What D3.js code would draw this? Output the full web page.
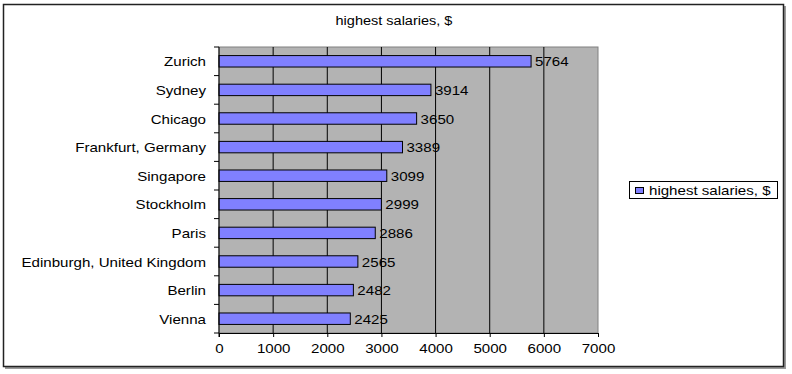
<!DOCTYPE html>
<html>
<head>
<meta charset="utf-8">
<script src="https://cdn.jsdelivr.net/npm/d3@7"></script>
<style>
  body { margin: 0; background: #fff; }
  text { font-family: "Liberation Sans", Arial, sans-serif; fill: #000; }
</style>
</head>
<body>
<svg id="chart"></svg>
<script>
var cities = ["Zurich", "Sydney", "Chicago", "Frankfurt, Germany", "Singapore",
  "Stockholm", "Paris", "Edinburgh, United Kingdom", "Berlin", "Vienna"];
var salaries = [5764, 3914, 3650, 3389, 3099, 2999, 2886, 2565, 2482, 2425];
var xTicks = [0, 1000, 2000, 3000, 4000, 5000, 6000, 7000];
var seriesName = "highest salaries, $";

var w = 792, h = 374;
// plot area ("top" is taken on window, so pTop/pBottom)
var pLeft = 219, pRight = 598, pTop = 47, pBottom = 333;
var fs = "13px";
var stretch = 1.16; // the original text is a bit wider than Arial

var svg = d3.select("#chart").attr("width", w).attr("height", h);

// outer frame with a little shadow
svg.append("rect").attr("x", 5).attr("y", 6).attr("width", 781).attr("height", 363)
  .attr("fill", "#999");
svg.append("rect").attr("x", 3.5).attr("y", 4.5).attr("width", 780).attr("height", 362)
  .attr("fill", "#fff").attr("stroke", "#222").attr("stroke-width", 1.5);

svg.append("text").attr("x", 394).attr("y", 25).attr("text-anchor", "middle")
  .style("font-size", "12.5px").text(seriesName);

var x = d3.scaleLinear().domain([0, 7000]).range([pLeft, pRight]);
var y = d3.scaleBand().domain(cities).range([pTop, pBottom])
  .paddingInner(0.6).paddingOuter(0.3);

svg.append("rect").attr("x", pLeft).attr("y", pTop)
  .attr("width", pRight - pLeft).attr("height", pBottom - pTop)
  .attr("fill", "#b3b3b3").attr("stroke", "#808080");

// vertical gridlines
svg.append("g").selectAll("line").data(xTicks.slice(1, -1)).join("line")
  .attr("x1", function (d) { return x(d); }).attr("x2", function (d) { return x(d); })
  .attr("y1", pTop).attr("y2", pBottom)
  .attr("stroke", "#000").attr("stroke-width", 1);

// bars
svg.append("g").selectAll("rect").data(salaries).join("rect")
  .attr("x", pLeft)
  .attr("y", function (d, i) { return y(cities[i]); })
  .attr("width", function (d) { return x(d) - pLeft; })
  .attr("height", y.bandwidth())
  .attr("fill", "#8080ff").attr("stroke", "#000").attr("stroke-width", 1);

svg.append("g").selectAll("text").data(salaries).join("text")
  .attr("x", function (d) { return x(d) + 4; })
  .attr("y", function (d, i) { return y(cities[i]) + y.bandwidth() / 2 + 5; })
  .style("font-size", fs)
  .text(function (d) { return d; });

// y axis: category labels, ticks between bands
var step = y.step();
var yAx = svg.append("g");
yAx.append("line").attr("x1", pLeft).attr("x2", pLeft).attr("y1", pTop).attr("y2", pBottom + 4)
  .attr("stroke", "#000");
yAx.selectAll("line.tk").data(d3.range(cities.length + 1)).join("line").attr("class", "tk")
  .attr("x1", pLeft - 5).attr("x2", pLeft)
  .attr("y1", function (i) { return pTop + i * step; })
  .attr("y2", function (i) { return pTop + i * step; })
  .attr("stroke", "#000");
yAx.selectAll("text").data(cities).join("text")
  .attr("x", 206).attr("text-anchor", "end")
  .attr("y", function (d) { return y(d) + y.bandwidth() / 2 + 5; })
  .style("font-size", fs)
  .text(function (d) { return d; });

// x axis
var xAxis = d3.axisBottom(x).tickValues(xTicks).tickSize(4).tickPadding(7)
  .tickFormat(d3.format("d"));
var gx = svg.append("g").attr("transform", "translate(0," + pBottom + ")").call(xAxis);
gx.select(".domain").attr("stroke", "#000");
gx.selectAll("text").style("font-size", fs).style("font-family", "'Liberation Sans', Arial, sans-serif");

// legend
var lg = svg.append("g");
lg.append("rect").attr("x", 629.5).attr("y", 181.5).attr("width", 148).attr("height", 17)
  .attr("fill", "#fff").attr("stroke", "#000");
lg.append("rect").attr("x", 635.5).attr("y", 187.5).attr("width", 8).attr("height", 6)
  .attr("fill", "#8080ff").attr("stroke", "#000");
lg.append("text").attr("x", 649).attr("y", 195).style("font-size", fs).text(seriesName);

// widen every text a little to match the original's wide glyphs
svg.selectAll("text").each(function () {
  var len = this.getComputedTextLength();
  d3.select(this).attr("textLength", len * stretch).attr("lengthAdjust", "spacingAndGlyphs");
});
</script>
</body>
</html>
